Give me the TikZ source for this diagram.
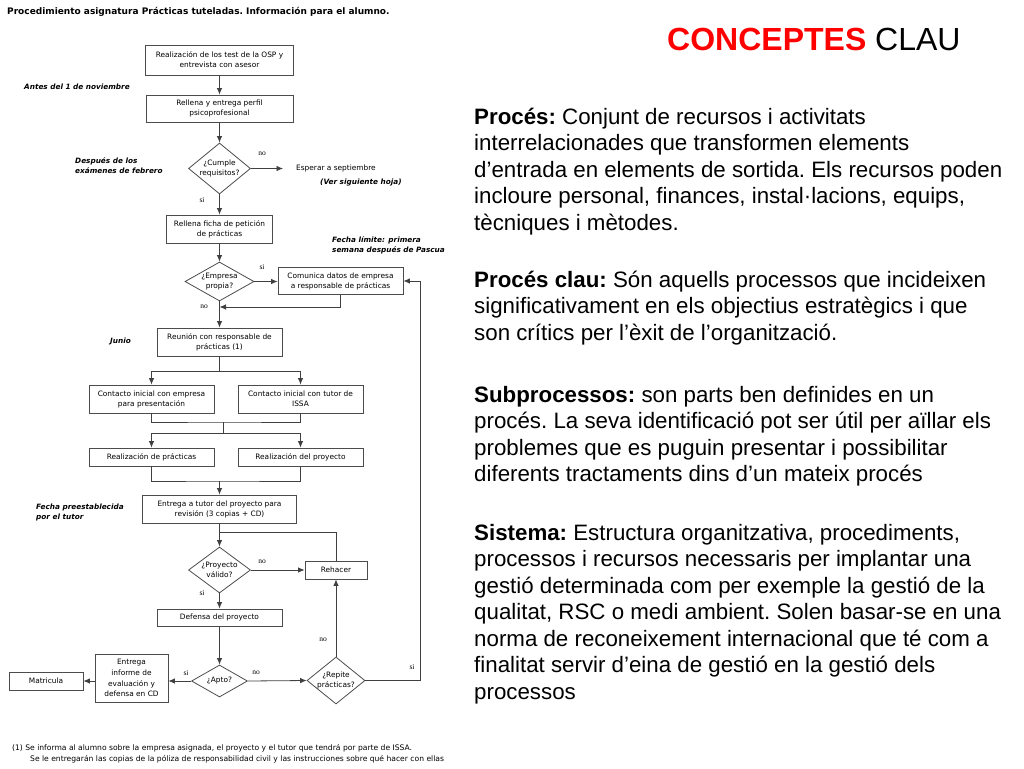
\documentclass[tikz,border=0pt]{standalone}
\usepackage{fontspec}
\setmainfont{Liberation Sans}
\newfontfamily\fcf{DejaVu Sans}
\newfontfamily\fcs{Liberation Serif}
\usetikzlibrary{shapes.geometric,arrows.meta}
\begin{document}
\begin{tikzpicture}[x=1pt,y=-1pt,
  fbox/.style={draw=black!70, line width=0.8pt, fill=white, align=center, inner sep=1pt,
    font=\frenchspacing\fcf\fontsize{7.4}{10}\selectfont},
  fdia/.style={draw=black!70, line width=0.8pt, fill=white, diamond, inner sep=0pt},
  dtext/.style={inner sep=0pt, align=center, font=\fcf\fontsize{7.4}{10}\selectfont},
  arr/.style={draw=black!75, line width=0.8pt, -{Latex[length=6.5pt,width=5.5pt]}},
  ln/.style={draw=black!75, line width=0.8pt},
  yn/.style={inner sep=0pt, font=\fcs\fontsize{7.5}{8}\selectfont},
  note/.style={inner sep=0pt, anchor=west, align=left, font=\fcf\bfseries\itshape\fontsize{7.3}{10}\selectfont},
  rt/.style={anchor=base west, inner sep=0pt, font=\frenchspacing\fontsize{22.3}{26}\selectfont}
]
\useasboundingbox (0,0) rectangle (1024,768);

% header
\node[anchor=base west, inner sep=0pt, font=\frenchspacing\fcf\bfseries\fontsize{9}{10}\selectfont] (hdr) at (7,14.5)
  {Procedimiento asignatura Prácticas tuteladas. Información para el alumno.};

% flowchart nodes
\node[fbox, minimum width=148, minimum height=30] (b1) at (219.5,60) {Realización de los test de la OSP y\\entrevista con asesor};
\node[fbox, minimum width=147, minimum height=27] (b2) at (219.5,108.5) {Rellena y entrega perfil\\psicoprofesional};
\node[fdia, minimum width=62, minimum height=51, label={[dtext]center:{¿Cumple\\requisitos?}}] (d1) at (219.5,168.5) {};
\node[inner sep=0pt, anchor=west, font=\fcf\fontsize{7.4}{10}\selectfont] (e1) at (296,168) {Esperar a septiembre};
\node[note] (n1) at (320,183) {(Ver siguiente hoja)};
\node[fbox, minimum width=106, minimum height=28] (b3) at (219.5,229) {Rellena ficha de petición\\de prácticas};
\node[fdia, minimum width=69, minimum height=39, label={[dtext]center:{¿Empresa\\propia?}}] (d2) at (219.5,281.5) {};
\node[fbox, minimum width=125, minimum height=27] (b4) at (340.5,281) {Comunica datos de empresa\\a responsable de prácticas};
\node[fbox, minimum width=125, minimum height=28] (b5) at (219.5,342) {Reunión con responsable de\\prácticas (1)};
\node[fbox, minimum width=125, minimum height=28] (b6) at (151.5,399) {Contacto inicial con empresa\\para presentación};
\node[fbox, minimum width=125, minimum height=28] (b7) at (300.5,399) {Contacto inicial con tutor de\\ISSA};
\node[fbox, minimum width=125, minimum height=18] (b8) at (151.5,457) {Realización de prácticas};
\node[fbox, minimum width=125, minimum height=18] (b9) at (300.5,457) {Realización del proyecto};
\node[fbox, minimum width=154, minimum height=28] (b10) at (219.5,509) {Entrega a tutor del proyecto para\\revisión (3 copias + CD)};
\node[fdia, minimum width=62, minimum height=46, label={[dtext]center:{¿Proyecto\\válido?}}] (d3) at (219.5,570) {};
\node[fbox, minimum width=62, minimum height=18] (r) at (336,570) {Rehacer};
\node[fbox, minimum width=125, minimum height=17] (b11) at (219.5,617.5) {Defensa del proyecto};
\node[fdia, minimum width=56, minimum height=32, label={[dtext]center:{¿Apto?}}] (d4) at (219.5,681) {};
\node[fbox, minimum width=73, minimum height=48, font=\fcf\fontsize{7.4}{10.8}\selectfont] (b12) at (131.5,678) {Entrega\\informe de\\evaluación y\\defensa en CD};
\node[fbox, minimum width=74, minimum height=18] (b13) at (46,681) {Matricula};
\node[fdia, minimum width=58, minimum height=47, label={[dtext]center:{¿Repite\\prácticas?}}] (d5) at (336,680.5) {};

% side notes
\node[note] (t1) at (24,87) {Antes del 1 de noviembre};
\node[note] (t2) at (75,165.5) {Después de los\\exámenes de febrero};
\node[note] (t3) at (332,245) {Fecha límite: primera\\semana después de Pascua};
\node[note] (t4) at (110,341) {Junio};
\node[note] (t5) at (36,512) {Fecha preestablecida\\por el tutor};

% yes/no labels
\node[yn] (y1) at (262,154) {no};
\node[yn] (y2) at (202,200) {si};
\node[yn] (y3) at (262,267) {si};
\node[yn] (y4) at (204,307) {no};
\node[yn] (y5) at (262,562) {no};
\node[yn] (y6) at (202,593) {si};
\node[yn] (y7) at (323,640) {no};
\node[yn] (y8) at (186,673) {si};
\node[yn] (y9) at (256,673) {no};
\node[yn] (y10) at (412,667) {si};

% coordinates for routing
\coordinate (c1) at (219.5,307);
\coordinate (c2) at (219.5,371);
\coordinate (c3) at (223,422);
\coordinate (c4) at (223,433);
\coordinate (c5) at (219.5,481);
\coordinate (c6) at (219.5,532);
\coordinate (c7) at (420,680.5);
\coordinate (c8) at (420,281);

% connectors
\draw[arr] (b1) -- (b2);
\draw[arr] (b2) -- (d1);
\draw[arr, shorten >=13pt] (d1.east) -- (d1.east -| e1.west);
\draw[arr] (d1) -- (b3);
\draw[arr] (b3) -- (d2);
\draw[arr] (d2.east) -- (d2.east -| b4.west);
\draw[arr] (b4.south) |- (c1);
\draw[arr] (d2) -- (b5);
\draw[ln] (b5.south) -- (c2);
\draw[arr] (c2) -| (b6.north);
\draw[arr] (c2) -| (b7.north);
\draw[ln] (b6.south) |- (c3) -| (b7.south);
\draw[ln] (c3) -- (c4);
\draw[arr] (c4) -| (b8.north);
\draw[arr] (c4) -| (b9.north);
\draw[ln] (b8.south) |- (c5) -| (b9.south);
\draw[arr] (c5) -- (b10.north);
\draw[arr] (b10) -- (d3);
\draw[ln] (r.north) |- (c6);
\draw[arr] (d3.east) -- (r.west);
\draw[arr] (d3) -- (b11);
\draw[arr] (b11) -- (d4);
\draw[arr] (d4.west) -- (d4.west -| b12.east);
\draw[arr] (d4.west -| b12.west) -- (d4.west -| b13.east);
\draw[arr] (d4.east) -- (d5.west);
\draw[arr] (d5.north) -- (r.south);
\draw[arr] (d5.east) -- (c7) -- (c8) -- (b4.east);

% footnote
\node[anchor=base west, inner sep=0pt, font=\frenchspacing\fcf\fontsize{7.6}{8}\selectfont] (fn1) at (12,750)
  {(1) Se informa al alumno sobre la empresa asignada, el proyecto y el tutor que tendrá por parte de ISSA.};
\node[anchor=base west, inner sep=0pt, font=\frenchspacing\fcf\fontsize{7.6}{8}\selectfont] (fn2) at (30,761)
  {Se le entregarán las copias de la póliza de responsabilidad civil y las instrucciones sobre qué hacer con ellas};

% right side
\node[anchor=base west, inner sep=0pt, font=\fontsize{32}{36}\selectfont] (title) at (667,51)
  {\textcolor{red}{\textbf{CONCEPTES}} CLAU};

\node[rt] (p1) at (474,124) {\textbf{Procés:} Conjunt de recursos i activitats};
\node[rt] (p2) at (474,150.5) {interrelacionades que transformen elements};
\node[rt] (p3) at (474,177) {d’entrada en elements de sortida. Els recursos poden};
\node[rt] (p4) at (474,203.5) {incloure personal, finances, instal·lacions, equips,};
\node[rt] (p5) at (474,230) {tècniques i mètodes.};

\node[rt] (q1) at (474,287) {\textbf{Procés clau:} Són aquells processos que incideixen};
\node[rt] (q2) at (474,313.5) {significativament en els objectius estratègics i que};
\node[rt] (q3) at (474,340) {son crítics per l’èxit de l’organització.};

\node[rt] (s1) at (474,402) {\textbf{Subprocessos:} son parts ben definides en un};
\node[rt] (s2) at (474,428.5) {procés. La seva identificació pot ser útil per aïllar els};
\node[rt] (s3) at (474,455) {problemes que es puguin presentar i possibilitar};
\node[rt] (s4) at (474,481.5) {diferents tractaments dins d’un mateix procés};

\node[rt] (m1) at (474,540) {\textbf{Sistema:} Estructura organitzativa, procediments,};
\node[rt] (m2) at (474,566.5) {processos i recursos necessaris per implantar una};
\node[rt] (m3) at (474,593) {gestió determinada com per exemple la gestió de la};
\node[rt] (m4) at (474,619.5) {qualitat, RSC o medi ambient. Solen basar-se en una};
\node[rt] (m5) at (474,646) {norma de reconeixement internacional que té com a};
\node[rt] (m6) at (474,672.5) {finalitat servir d’eina de gestió en la gestió dels};
\node[rt] (m7) at (474,699) {processos};
\end{tikzpicture}
\end{document}
